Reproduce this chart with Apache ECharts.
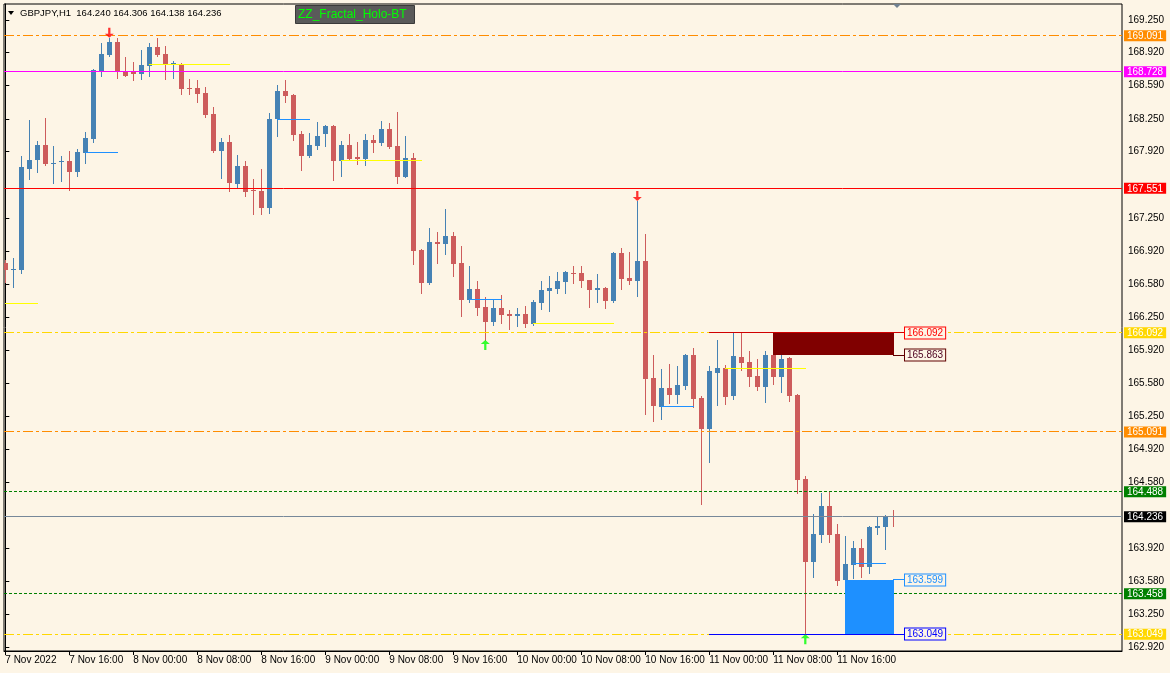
<!DOCTYPE html>
<html>
<head>
<meta charset="utf-8">
<script src="https://cdn.jsdelivr.net/npm/echarts@6/dist/echarts.min.js"></script>
<style>
html,body{margin:0;padding:0;background:#FDF5E6;}
#chart{width:1170px;height:673px;}
</style>
</head>
<body>
<div id="chart"></div>
<script>
// ---------------- DATA ----------------
// GBPJPY H1, bar 0 = 7 Nov 2022 08:00 ... bar 111 = 11 Nov 2022 23:00
const openP = [
166.800,166.733,166.726,167.746,167.837,167.988,167.801,167.818,167.823,167.718,
167.910,168.049,168.738,168.897,169.028,168.735,168.728,168.702,168.789,168.977,
168.907,168.799,168.809,168.563,168.563,168.513,168.301,167.930,168.018,167.597,
167.776,167.529,167.524,167.355,168.248,168.533,168.493,168.099,167.877,167.978,
168.099,168.180,167.827,167.988,167.867,167.847,168.038,168.008,168.150,167.978,
167.665,167.857,166.928,166.598,167.009,166.992,167.069,166.797,166.426,166.534,
166.355,166.204,166.342,166.282,166.265,166.282,166.184,166.396,166.517,166.537,
166.608,166.696,166.696,166.625,166.527,166.544,166.416,166.898,166.645,166.618,
166.817,165.636,165.346,165.535,165.464,165.555,165.868,165.434,165.121,165.686,
165.737,165.454,165.848,165.797,165.656,165.545,165.868,165.646,165.838,165.464,
164.616,163.781,164.051,164.343,164.061,163.596,163.751,163.919,163.731,164.121,
164.131,164.240];
const closeP = [
166.726,166.739,167.769,167.837,167.988,167.796,167.811,167.823,167.718,167.914,
168.056,168.745,168.907,169.028,168.735,168.688,168.702,168.796,168.977,168.900,
168.796,168.813,168.553,168.553,168.503,168.291,167.930,168.018,167.604,167.776,
167.517,167.519,167.355,168.251,168.533,168.486,168.089,167.877,167.988,168.079,
168.180,167.827,167.988,167.847,167.847,168.038,168.008,168.150,167.968,167.665,
167.857,166.921,166.598,167.009,166.989,167.069,166.790,166.426,166.534,166.345,
166.204,166.342,166.275,166.265,166.282,166.184,166.403,166.524,166.544,166.615,
166.706,166.686,166.618,166.527,166.544,166.416,166.898,166.638,166.618,166.817,
165.626,165.353,165.535,165.464,165.565,165.868,165.424,165.121,165.706,165.737,
165.444,165.858,165.787,165.646,165.545,165.868,165.646,165.828,165.454,164.606,
163.781,164.061,164.343,164.051,163.586,163.758,163.919,163.731,164.131,164.141,
164.240,164.236];
const lowP = [
166.608,166.557,166.699,167.645,167.718,167.786,167.607,167.628,167.537,167.678,
167.809,168.015,168.688,168.887,168.661,168.680,168.644,168.654,168.688,168.887,
168.654,168.667,168.503,168.503,168.422,168.271,167.917,167.655,167.527,167.567,
167.476,167.294,167.294,167.305,168.082,168.425,168.038,167.736,167.867,167.948,
167.978,167.635,167.675,167.837,167.796,167.786,167.917,167.988,167.958,167.604,
167.660,166.787,166.497,166.588,166.800,166.891,166.669,166.265,166.406,166.275,
166.019,166.174,166.194,166.133,166.164,166.154,166.174,166.335,166.315,166.497,
166.497,166.598,166.557,166.355,166.406,166.345,166.406,166.537,166.588,166.467,
165.272,165.205,165.222,165.386,165.386,165.525,165.346,164.364,164.791,165.363,
165.373,165.424,165.716,165.555,165.515,165.393,165.575,165.494,165.403,164.478,
163.049,163.630,163.983,163.983,163.546,163.590,163.616,163.630,163.670,164.061,
163.909,164.138];
const highP = [
166.827,166.850,167.880,168.240,168.028,168.261,167.978,167.877,167.927,167.948,
168.116,168.752,169.021,169.070,169.071,168.879,168.823,168.947,169.018,169.065,
168.988,168.836,168.819,168.654,168.644,168.574,168.369,168.059,168.086,167.887,
167.827,167.645,167.746,168.311,168.594,168.644,168.503,168.129,168.109,168.220,
168.190,168.190,168.028,168.099,168.018,168.099,168.089,168.230,168.210,168.321,
168.079,167.907,166.938,167.150,167.110,167.342,167.110,166.968,166.766,166.615,
166.453,166.436,166.474,166.322,166.345,166.363,166.423,166.615,166.665,166.709,
166.719,166.766,166.766,166.630,166.686,166.554,166.905,166.948,166.908,167.423,
167.089,165.868,165.727,165.777,165.757,165.878,165.939,165.454,165.757,166.019,
165.767,166.090,166.090,165.908,165.828,165.908,165.949,165.908,165.848,165.470,
164.649,164.263,164.475,164.488,164.162,164.040,163.990,164.010,164.141,164.242,
164.252,164.306];

// time axis labels (one every 8 bars)
const timeTickBars = [0,8,16,24,32,40,48,56,64,72,80,88,96,104];
const timeTickLabels = ['7 Nov 2022','7 Nov 16:00','8 Nov 00:00','8 Nov 08:00','8 Nov 16:00',
  '9 Nov 00:00','9 Nov 08:00','9 Nov 16:00','10 Nov 00:00','10 Nov 08:00','10 Nov 16:00',
  '11 Nov 00:00','11 Nov 08:00','11 Nov 16:00'];

// price axis labels
const priceTicks = [162.920,163.250,163.580,163.920,164.580,164.920,165.250,165.580,165.920,
  166.250,166.580,166.920,167.250,167.920,168.250,168.590,168.920,169.250];

// full-width horizontal levels (with price tags on the axis)
const levelPrices = [169.091,168.728,167.551,166.092,165.091,164.488,164.236,163.458,163.049];

// short indicator segments: [fromBar, toBar, price]
const yellowSegs = [[0,4,166.383],[18,28,168.796],[42,52,167.834],[66,76,166.188],[90,100,165.734]];
const blueSegs = [[10,14,167.914],[34,38,168.248],[58,62,166.433],[82,86,165.350],[106,110,163.758]];

// zones: [fromBar, toBar, topPrice, bottomPrice]
const supplyZone = [96,111,166.092,165.863];
const demandZone = [105,111,163.599,163.049];
// zone edge lines with labels: [fromBar, toBar(label), price]
const zoneLines = [[88,112.45,166.092],[111,112.45,165.863],[111,112.45,163.599],[88,112.45,163.049]];

// fractal arrows: [bar, price]
const downArrows = [[13,169.070],[79,167.423]];
const upArrows = [[60,166.019],[100,163.049]];

const headerText = 'GBPJPY,H1  164.240 164.306 164.138 164.236';
const indicatorName = 'ZZ_Fractal_Holo-BT';

// ---------------- STYLES ----------------
const FONT = 'Liberation Sans, Arial, sans-serif';
const BG = '#FDF5E6';
const UP = '#4682B4', DN = '#CD5C5C';
const DASHDOT = [10,3,3,3], DOT = [3,2];
const levelStyles = [
  {color:'#FF8C00', dash:DASHDOT, tag:'orange'},
  {color:'#FF00FF', dash:null, tag:'magenta'},
  {color:'#FF0000', dash:null, tag:'red'},
  {color:'#FFD700', dash:DASHDOT, tag:'gold'},
  {color:'#FF8C00', dash:DASHDOT, tag:'orange'},
  {color:'#008000', dash:DOT, tag:'green'},
  {color:'#778899', dash:null, tag:'black'},
  {color:'#008000', dash:DOT, tag:'green'},
  {color:'#FFD700', dash:DASHDOT, tag:'gold'}
];
const zoneLineStyles = [
  {line:'#D00000', text:'#FF0000', border:'#FF0000'},
  {line:'#600000', text:'#4D0020', border:'#600000'},
  {line:'#1E90FF', text:'#1E90FF', border:'#1E90FF'},
  {line:'#0000FF', text:'#0000FF', border:'#0000FF'}
];
const zoneColors = ['#800000', '#1E90FF'];
const tagBg = {orange:'#FF8C00', magenta:'#FF00FF', red:'#FF0000', gold:'#FFD700', green:'#008000', black:'#000000'};
const tagRich = {};
Object.keys(tagBg).forEach(k => {
  tagRich[k] = {backgroundColor: tagBg[k], color:'#FFFFFF', padding:[1,3,0,3], fontSize:10, lineHeight:12, fontFamily:FONT};
});

// ---------------- CHART ----------------
const chart = echarts.init(document.getElementById('chart'), null, {renderer:'canvas'});

const candleData = openP.map((o,i) => [i, o, closeP[i], lowP[i], highP[i]]);

function renderCandle(params, api) {
  const i = api.value(0), o = api.value(1), c = api.value(2), l = api.value(3), h = api.value(4);
  const pO = api.coord([i,o]), pC = api.coord([i,c]), pL = api.coord([i,l]), pH = api.coord([i,h]);
  const cx = Math.floor(pO[0]);
  const col = c >= o ? UP : DN;
  let top = Math.round(Math.min(pO[1], pC[1]));
  let bot = Math.round(Math.max(pO[1], pC[1]));
  if (bot - top < 1) bot = top + 1;
  const yH = Math.round(pH[1]), yL = Math.round(pL[1]);
  return {type:'group', children:[
    {type:'rect', shape:{x:cx, y:yH, width:1, height:Math.max(1, yL - yH + 1)}, style:{fill:col}},
    {type:'rect', shape:{x:cx-2, y:top, width:5, height:bot-top}, style:{fill:col}}
  ]};
}

// object rows: [kind, a, b, price, price2, styleIndex]
// kind 0 = full level, 1 = yellow seg, 2 = blue seg, 3 = zone rect, 4 = zone line with label
const objRows = [];
levelPrices.forEach((p,k) => objRows.push([0, 0, 0, p, p, k]));
yellowSegs.forEach(s => objRows.push([1, s[0], s[1], s[2], s[2], 0]));
blueSegs.forEach(s => objRows.push([2, s[0], s[1], s[2], s[2], 0]));
[supplyZone, demandZone].forEach((z,k) => objRows.push([3, z[0], z[1], z[2], z[3], k]));
zoneLines.forEach((s,k) => objRows.push([4, s[0], s[1], s[2], s[2], k]));

function crispY(y) { return Math.round(y - 0.5) + 0.5; }

function renderObj(params, api) {
  const kind = api.value(0), a = api.value(1), b = api.value(2), p = api.value(3), p2 = api.value(4), k = api.value(5);
  const cs = params.coordSys;
  if (kind === 0) {
    const y = crispY(api.coord([0, p])[1]);
    const st = levelStyles[k];
    return {type:'line', shape:{x1:cs.x, y1:y, x2:cs.x + cs.width, y2:y},
      style:{stroke:st.color, lineWidth:1, lineDash:st.dash || null}};
  }
  if (kind === 1 || kind === 2) {
    const pa = api.coord([a, p]), pb = api.coord([b, p]);
    const y = crispY(pa[1]);
    return {type:'line', shape:{x1:Math.floor(pa[0]), y1:y, x2:Math.floor(pb[0]) + 1, y2:y},
      style:{stroke: kind === 1 ? '#FFFF00' : '#1E90FF', lineWidth:1}};
  }
  if (kind === 3) {
    const pa = api.coord([a, p]), pb = api.coord([b, p2]);
    const x1 = Math.floor(pa[0]), x2 = Math.floor(pb[0]) + 1;
    const y1 = Math.round(pa[1]), y2 = Math.round(pb[1]);
    return {type:'rect', shape:{x:x1, y:y1, width:x2 - x1, height:y2 - y1}, style:{fill:zoneColors[k]}};
  }
  const pa = api.coord([a, p]), pb = api.coord([b, p]);
  const y = crispY(pa[1]);
  const st = zoneLineStyles[k];
  const xe = Math.round(pb[0]);
  return {type:'group', children:[
    {type:'line', shape:{x1:Math.floor(pa[0]), y1:y, x2:xe, y2:y}, style:{stroke:st.line, lineWidth:1}},
    {type:'text', x:xe, y:Math.round(pa[1]), z2:5, style:{text:p.toFixed(3), fill:st.text, font:'10px ' + FONT,
      backgroundColor:BG, borderColor:st.border, borderWidth:1, padding:[1,2,0,2],
      verticalAlign:'middle', align:'left'}}
  ]};
}

const option = {
  animation:false,
  backgroundColor:BG,
  textStyle:{fontFamily:FONT},
  grid:{left:4, right:48, top:4, bottom:22, show:true, borderColor:'#000000', borderWidth:1,
        backgroundColor:'transparent', containLabel:false, outerBoundsMode:'none'},
  xAxis:{
    type:'value', min:-0.1625, max:139.5875,
    axisLine:{show:true, onZero:false, lineStyle:{color:'#000000', width:1}},
    axisTick:{show:true, customValues:timeTickBars, length:4, lineStyle:{color:'#000000'}},
    axisLabel:{show:true, customValues:timeTickBars, align:'left', margin:4, fontSize:10,
      color:'#000000', fontFamily:FONT,
      formatter:v => { const k = timeTickBars.indexOf(Math.round(v)); return k >= 0 ? timeTickLabels[k] : ''; }},
    splitLine:{show:false}
  },
  yAxis:[{
    type:'value', position:'right', min:162.8794, max:169.4115,
    axisLine:{show:true, lineStyle:{color:'#000000', width:1}},
    axisTick:{show:true, customValues:priceTicks, length:4, lineStyle:{color:'#000000'}},
    axisLabel:{show:true, customValues:priceTicks, margin:6, fontSize:10, color:'#000000', fontFamily:FONT,
      formatter:v => v.toFixed(3)},
    splitLine:{show:false}
  },{
    type:'value', position:'right', min:162.8794, max:169.4115, z:5,
    axisLine:{show:false}, axisTick:{show:false}, splitLine:{show:false},
    axisLabel:{show:true, customValues:levelPrices, margin:2, fontFamily:FONT,
      formatter:v => {
        let k = 0, best = 1e9;
        levelPrices.forEach((p,j) => { const d = Math.abs(p - v); if (d < best) { best = d; k = j; } });
        return '{' + levelStyles[k].tag + '|' + levelPrices[k].toFixed(3) + '}';
      },
      rich:tagRich}
  }],
  series:[
    {
      type:'custom', name:'candles', renderItem:renderCandle, data:candleData, clip:true,
      encode:{x:0, y:[1,2,3,4]}, z:2, silent:true
    },
    {
      type:'custom', name:'objects', renderItem:renderObj, data:objRows, clip:true,
      encode:{x:[1,2], y:[3,4]}, z:3, silent:true
    },
    {
      type:'scatter', name:'fractalDown', data:downArrows, z:4, silent:true,
      symbol:'path://M3,0L5,0L5,6L8,6L4,10L0,6L3,6Z', symbolSize:[9,10], symbolOffset:[0,-5],
      itemStyle:{color:'#FF0000'}
    },
    {
      type:'scatter', name:'fractalUp', data:upArrows, z:4, silent:true,
      symbol:'path://M4,0L8,4L5,4L5,10L3,10L3,4L0,4Z', symbolSize:[9,10], symbolOffset:[0,5],
      itemStyle:{color:'#00FF00'}
    }
  ],
  graphic:[
    {type:'polygon', shape:{points:[[8,11],[14,11],[11,15]]}, style:{fill:'#000000'}, z:10},
    {type:'text', x:20, y:13, style:{text:headerText, fill:'#000000', font:'9.5px ' + FONT, textVerticalAlign:'middle'}, z:10},
    {type:'rect', shape:{x:295.5, y:5.5, width:119, height:18}, style:{fill:'#5A5A5A', stroke:'#3A3A3A', lineWidth:1}, z:10},
    {type:'text', x:298, y:15, style:{text:indicatorName, fill:'#00FF00', font:'12px ' + FONT, textVerticalAlign:'middle'}, z:11},
    {type:'polygon', shape:{points:[[893,4],[901,4],[897,8]]}, style:{fill:'#708090'}, z:10}
  ]
};
chart.setOption(option);
</script>
</body>
</html>
